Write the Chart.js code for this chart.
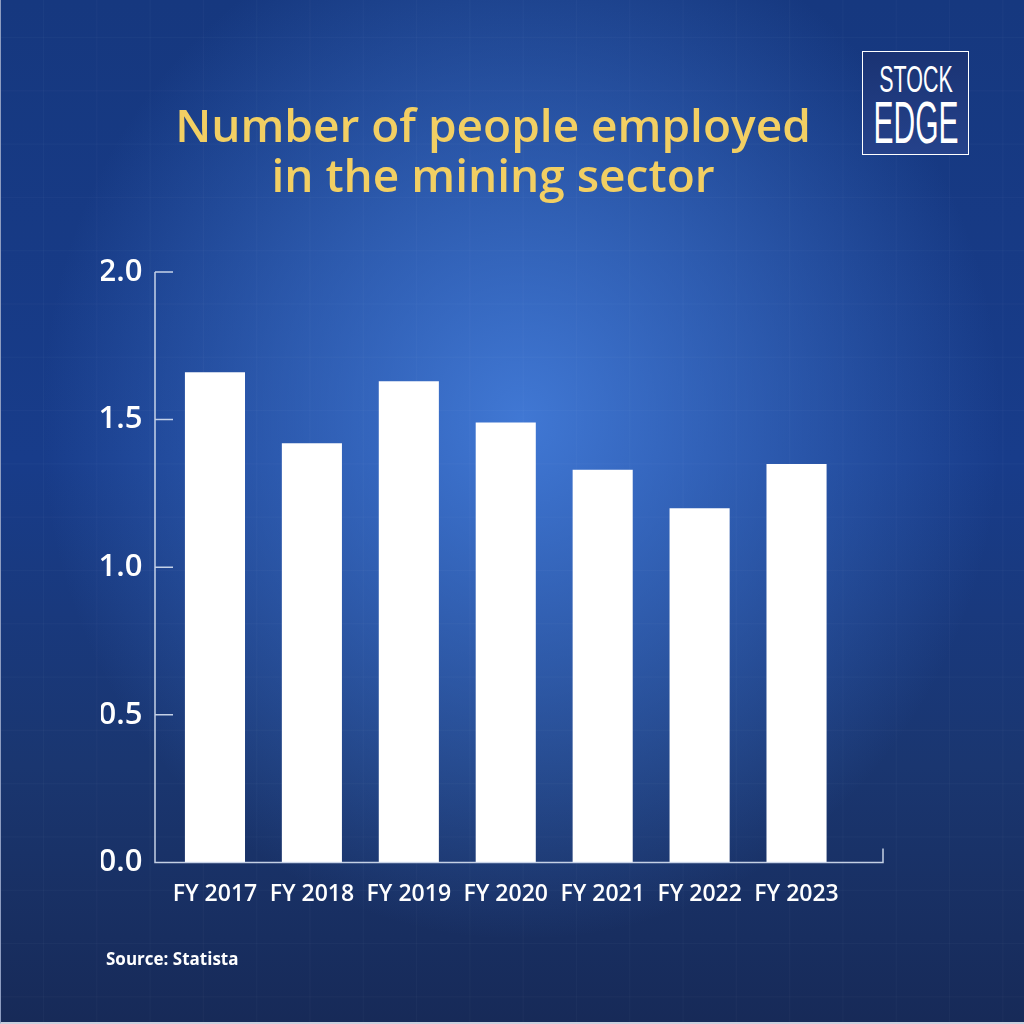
<!DOCTYPE html>
<html lang="en">
<head>
  <meta charset="UTF-8">
  <title>Mining sector employment</title>
  <script src="https://cdn.jsdelivr.net/npm/chart.js"></script>
  <style>
    html, body {
      margin: 0;
      padding: 0;
    }
    #page {
      position: relative;
      width: 1024px;
      height: 1024px;
      overflow: hidden;
      font-family: "Open Sans", sans-serif;
      background:
        linear-gradient(90deg, rgba(255,255,255,0.022) 1px, transparent 1px) 42px 0 / 53.3px 53.3px,
        linear-gradient(0deg, rgba(255,255,255,0.022) 1px, transparent 1px) 0 38px / 53.3px 53.3px,
        radial-gradient(ellipse 480px 520px at 520px 420px, rgba(70,128,222,0.88) 0%, rgba(70,128,222,0.45) 50%, rgba(70,128,222,0) 100%),
        linear-gradient(to bottom, #16387f 0%, #183c8a 45%, #1a3670 75%, #172a58 100%);
      border-left: 1px solid #8d9cc0;
      border-bottom: 2px solid #c9d0de;
      box-sizing: border-box;
    }
    #title {
      position: absolute;
      left: 0;
      width: 984px;
      top: 99px;
      text-align: center;
      color: #f2cf63;
      font-size: 46px;
      font-weight: 600;
      line-height: 50px;
    }
    #logo {
      position: absolute;
      left: 861px;
      top: 51px;
      width: 105px;
      height: 102px;
      border: 1.5px solid #ffffff;
      background: linear-gradient(to bottom, #1a3373, #25428b);
      color: #ffffff;
      font-family: "Liberation Sans", sans-serif;
      overflow: hidden;
    }
    #logo span {
      position: absolute;
      left: 50%;
      white-space: nowrap;
      transform-origin: center center;
    }
    #logo .s1 {
      top: 9px;
      font-size: 37px;
      line-height: 37px;
      transform: translateX(-50%) scaleX(0.58);
    }
    #logo .s2 {
      top: 41px;
      font-size: 60px;
      line-height: 60px;
      transform: translateX(-50%) scaleX(0.5);
    }
    #source {
      position: absolute;
      left: 105px;
      top: 947px;
      color: #ffffff;
      font-size: 17px;
      font-weight: 700;
    }
    canvas {
      position: absolute;
      left: 0;
      top: 0;
    }
  </style>
</head>
<body>
<div id="page">
  <canvas id="chart" width="1024" height="1024"></canvas>
  <div id="title">Number of people employed<br>in the mining sector</div>
  <div id="logo"><span class="s1">STOCK</span><span class="s2">EDGE</span></div>
  <div id="source">Source: Statista</div>
</div>

<script>
const years = ["FY 2017", "FY 2018", "FY 2019", "FY 2020", "FY 2021", "FY 2022", "FY 2023"];
const employed = [1.66, 1.42, 1.63, 1.49, 1.33, 1.20, 1.35];
const yTicks = [0, 0.5, 1.0, 1.5, 2.0];

// axis lines sit a little outside the bar area, with inward ticks
const axisLines = {
  id: 'axisLines',
  afterDraw(chart) {
    const { ctx, chartArea, scales } = chart;
    const x0 = chartArea.left - 11.5;
    const x1 = chartArea.right + 38;
    const yBase = scales.y.getPixelForValue(0);
    const yTop = scales.y.getPixelForValue(2);
    ctx.save();
    ctx.strokeStyle = 'rgba(215,225,242,0.9)';
    ctx.lineWidth = 1.5;
    ctx.beginPath();
    ctx.moveTo(x0, yTop);
    ctx.lineTo(x0, yBase);
    ctx.lineTo(x1, yBase);
    ctx.lineTo(x1, yBase - 14);
    yTicks.forEach(v => {
      const py = scales.y.getPixelForValue(v);
      ctx.moveTo(x0, py);
      ctx.lineTo(x0 + 18, py);
    });
    ctx.stroke();
    ctx.restore();
  }
};

new Chart(document.getElementById('chart'), {
  type: 'bar',
  data: {
    labels: years,
    datasets: [{
      data: employed,
      backgroundColor: '#ffffff',
      borderWidth: 0,
      categoryPercentage: 1,
      barPercentage: 0.62
    }]
  },
  options: {
    responsive: false,
    animation: false,
    layout: {
      padding: { left: 100, right: 180, top: 272, bottom: 98 }
    },
    plugins: {
      legend: { display: false },
      tooltip: { enabled: false }
    },
    scales: {
      x: {
        offset: true,
        grid: { display: false, drawTicks: false },
        border: { display: false },
        ticks: {
          color: '#ffffff',
          padding: 18,
          maxRotation: 0,
          autoSkip: false,
          font: { family: 'Open Sans', size: 23, weight: '600' }
        }
      },
      y: {
        min: 0,
        max: 2,
        afterFit(scale) { scale.width = 65.5; },
        afterBuildTicks(scale) { scale.ticks = yTicks.map(v => ({ value: v })); },
        grid: { display: false, drawTicks: false },
        border: { display: false },
        ticks: {
          color: '#ffffff',
          padding: 24,
          font: { family: 'Open Sans', size: 31, weight: '600' },
          callback: v => Number(v).toFixed(1)
        }
      }
    }
  },
  plugins: [axisLines]
});
</script>
</body>
</html>
